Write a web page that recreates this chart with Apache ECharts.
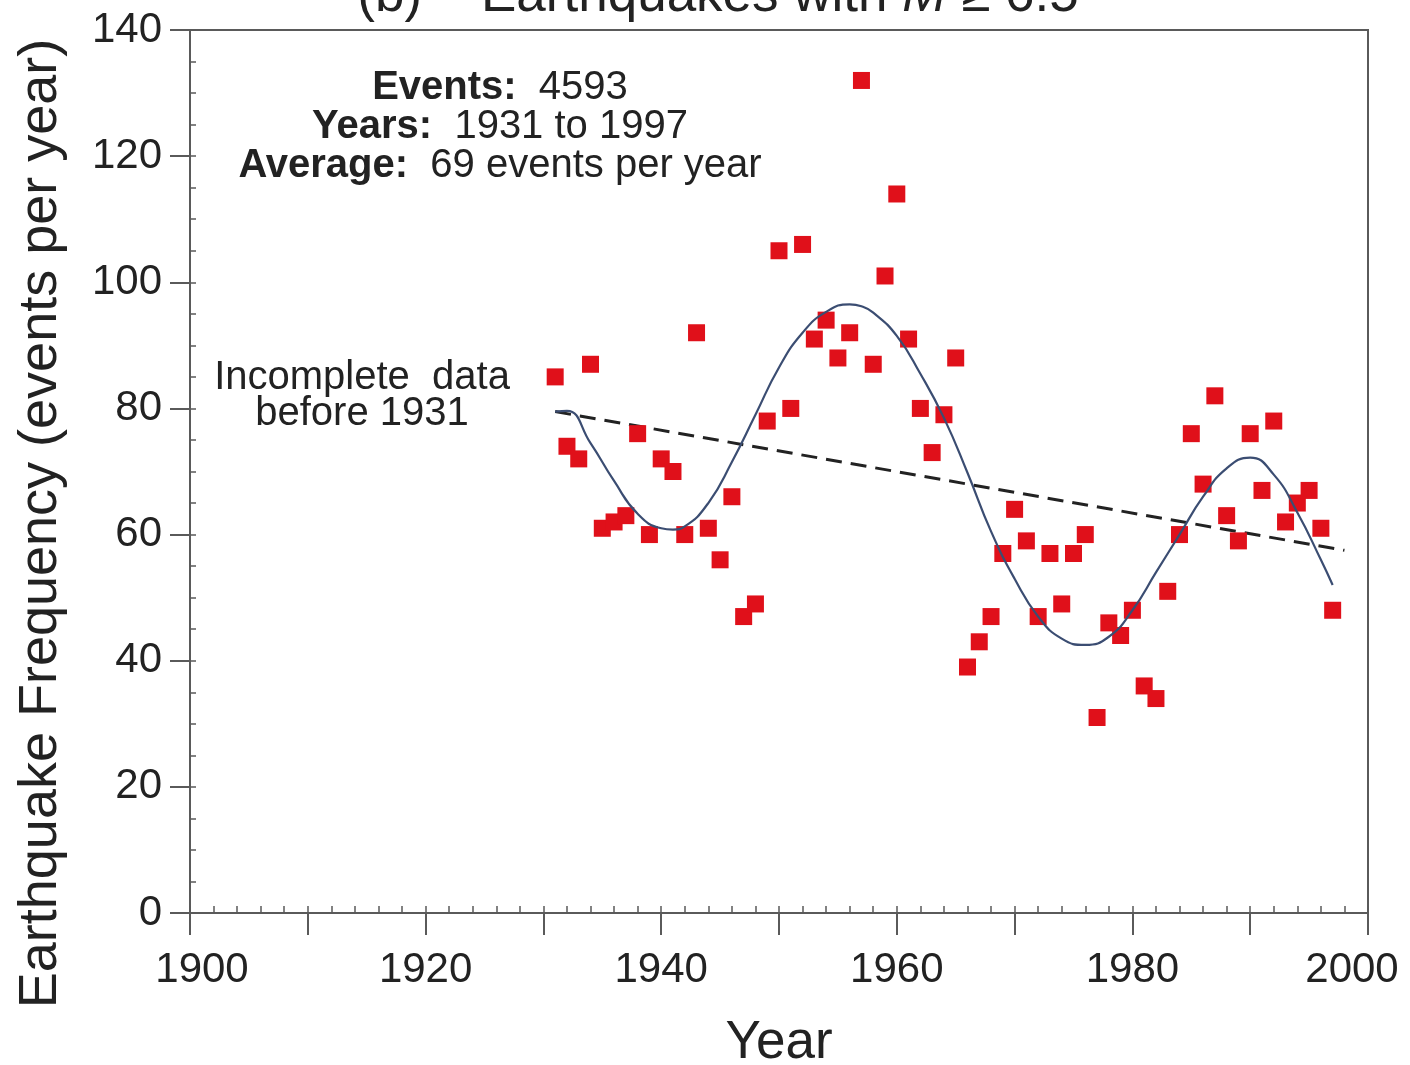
<!DOCTYPE html>
<html><head><meta charset="utf-8">
<script src="https://cdn.jsdelivr.net/npm/echarts@6/dist/echarts.min.js"></script>
<style>html,body{margin:0;padding:0;background:#fff}#c{width:1410px;height:1065px}</style>
</head><body><div id="c"></div>
<script>
const years = [1931,1932,1933,1934,1935,1936,1937,1938,1939,1940,
  1941,1942,1943,1944,1945,1946,1947,1948,1949,1950,
  1951,1952,1953,1954,1955,1956,1957,1958,1959,1960,
  1961,1962,1963,1964,1965,1966,1967,1968,1969,1970,
  1971,1972,1973,1974,1975,1976,1977,1978,1979,1980,
  1981,1982,1983,1984,1985,1986,1987,1988,1989,1990,
  1991,1992,1993,1994,1995,1996,1997];
const counts = [85,74,72,87,61,62,63,76,60,72,
  70,60,92,61,56,66,47,49,78,105,
  80,106,91,94,88,92,132,87,101,114,
  91,80,73,79,88,39,43,47,57,64,
  59,47,57,49,57,60,31,46,44,48,
  36,34,51,60,76,68,82,63,59,76,
  67,78,62,65,67,61,48];
const fitYears = [1931,1932,1934,1936,1938,1940,1941,1942,1944,1946,1948,1950,1952,1954,1956,1957,1958,1960,1962,1964,1966,1968,1970,1972,1974,1976,1978,1980,1982,1984,1986,1988,1990,1992,1994,1996,1997];
const fitValues = [79.5,79.6,74.5,68.5,63.3,61,60.8,61.3,65,71.5,79,86.5,92,95.3,96.5,96.2,95.2,91.5,85.5,78.5,69.8,60.5,53,47,43.5,42.5,43.8,48,54,60,66,70.5,72.2,69.5,63.5,56,52];
const trendYears = [1931, 1998];
const trendValues = [79.5, 57.5];
const xTicks = [1900,1920,1940,1960,1980,2000];
const yTicks = [0,20,40,60,80,100,120,140];

const font = '"Liberation Sans", Arial, Helvetica, sans-serif';
const axisColor = '#5a5a5a';
const chart = echarts.init(document.getElementById('c'));

chart.setOption({
  backgroundColor: '#fff',
  animation: false,
  textStyle: {fontFamily: font},
  grid: {left: 190, right: 42, top: 30, bottom: 152, outerBoundsMode: 'none', containLabel: false,
    show: true, borderColor: axisColor, borderWidth: 2, backgroundColor: 'transparent'},
  xAxis: [{
    type: 'value', min: 1900, max: 2000, interval: 10, position: 'bottom',
    name: 'Year', nameLocation: 'middle', nameGap: 104,
    nameTextStyle: {fontSize: 53, color: '#222', fontFamily: font},
    axisLine: {show: true, lineStyle: {color: axisColor, width: 2}},
    axisTick: {show: true, inside: false, length: 22, lineStyle: {color: axisColor, width: 2}},
    axisLabel: {fontSize: 42, color: '#222', margin: 36, fontFamily: font,
      formatter: v => {
        if (xTicks.indexOf(v) < 0) return '';
        if (v === xTicks[0]) return '{f|' + v + '}';
        if (v === xTicks[xTicks.length - 1]) return '{l|' + v + '}';
        return String(v);
      },
      rich: {
        f: {fontSize: 42, color: '#222', fontFamily: font, padding: [0, 0, 0, 24]},
        l: {fontSize: 42, color: '#222', fontFamily: font, padding: [0, 32, 0, 0]}
      }},
    splitLine: {show: false}
  }, {
    type: 'value', min: 1900, max: 2000, interval: 2, position: 'bottom',
    axisLine: {show: false},
    axisTick: {show: true, inside: true, length: 7, lineStyle: {color: axisColor, width: 1.5}},
    axisLabel: {show: false},
    splitLine: {show: false}
  }],
  yAxis: [{
    type: 'value', min: 0, max: 140, interval: 20, position: 'left',
    name: 'Earthquake Frequency (events per year)', nameLocation: 'middle', nameGap: 122,
    nameTextStyle: {fontSize: 54, color: '#222', fontFamily: font, padding: [0, 104, 0, 0]},
    axisLine: {show: true, lineStyle: {color: axisColor, width: 2}},
    axisTick: {show: true, inside: false, length: 20, lineStyle: {color: axisColor, width: 2}},
    axisLabel: {fontSize: 42, color: '#222', margin: 28, fontFamily: font,
      formatter: v => yTicks.indexOf(v) >= 0 ? String(v) : ''},
    splitLine: {show: false}
  }, {
    type: 'value', min: 0, max: 140, interval: 5, position: 'left',
    axisLine: {show: false},
    axisTick: {show: true, inside: true, length: 6, lineStyle: {color: axisColor, width: 1.5}},
    axisLabel: {show: false},
    splitLine: {show: false}
  }],
  series: [{
    type: 'line', name: 'trend', xAxisIndex: 0, yAxisIndex: 0,
    data: trendYears.map((y, i) => [y, trendValues[i]]),
    symbol: 'none', lineStyle: {color: '#222', width: 3, type: [16, 9]}, z: 3
  }, {
    type: 'scatter', name: 'events', xAxisIndex: 0, yAxisIndex: 0,
    data: years.map((y, i) => [y, counts[i]]),
    symbol: 'rect', symbolSize: 17, itemStyle: {color: '#e0101a', opacity: 1}, z: 4
  }, {
    type: 'line', name: 'fit', xAxisIndex: 0, yAxisIndex: 0,
    data: fitYears.map((y, i) => [y, fitValues[i]]),
    smooth: true, symbol: 'none', lineStyle: {color: '#3b4d72', width: 2.2}, z: 5
  }],
  graphic: [{
    type: 'text', x: 718, y: -4, z: 10,
    style: {
      text: '{n|(b)    Earthquakes with }{i|M}{n| ≥ 6.5}',
      textAlign: 'center', textVerticalAlign: 'middle',
      rich: {
        n: {fontSize: 53, fontFamily: font, fill: '#222'},
        i: {fontSize: 53, fontFamily: font, fontStyle: 'italic', fill: '#222'}
      }
    }
  }, {
    type: 'text', x: 500, y: 88, z: 10,
    style: {
      text: '{b|Events:}{r|  4593}', textAlign: 'center', textVerticalAlign: 'middle',
      rich: {b: {fontSize: 40, fontWeight: 'bold', fontFamily: font, fill: '#222'}, r: {fontSize: 40, fontFamily: font, fill: '#222'}}
    }
  }, {
    type: 'text', x: 500, y: 127, z: 10,
    style: {
      text: '{b|Years:}{r|  1931 to 1997}', textAlign: 'center', textVerticalAlign: 'middle',
      rich: {b: {fontSize: 40, fontWeight: 'bold', fontFamily: font, fill: '#222'}, r: {fontSize: 40, fontFamily: font, fill: '#222'}}
    }
  }, {
    type: 'text', x: 500, y: 166, z: 10,
    style: {
      text: '{b|Average:}{r|  69 events per year}', textAlign: 'center', textVerticalAlign: 'middle',
      rich: {b: {fontSize: 40, fontWeight: 'bold', fontFamily: font, fill: '#222'}, r: {fontSize: 40, fontFamily: font, fill: '#222'}}
    }
  }, {
    type: 'text', x: 362, y: 378, z: 10,
    style: {text: 'Incomplete  data', textAlign: 'center', textVerticalAlign: 'middle', fontSize: 40, fontFamily: font, fill: '#222'}
  }, {
    type: 'text', x: 362, y: 414, z: 10,
    style: {text: 'before 1931', textAlign: 'center', textVerticalAlign: 'middle', fontSize: 40, fontFamily: font, fill: '#222'}
  }]
});
</script>
</body></html>
